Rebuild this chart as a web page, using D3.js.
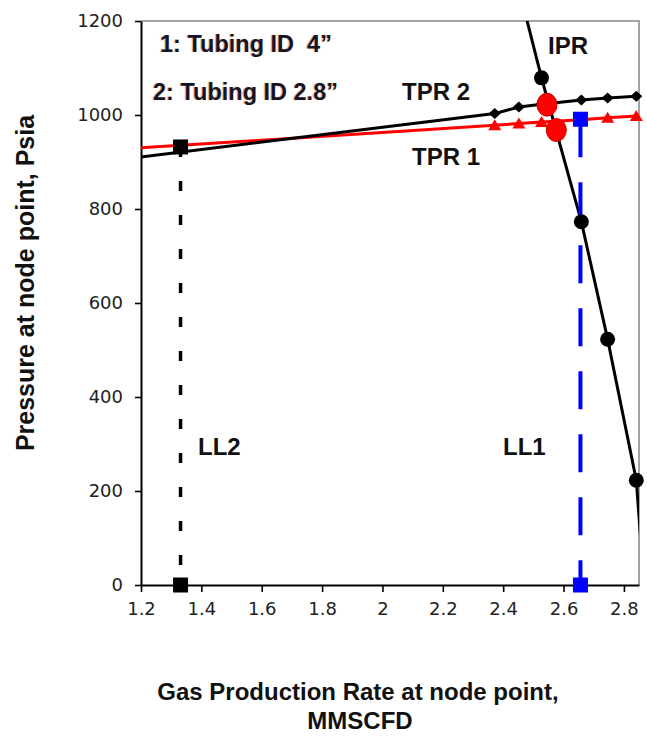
<!DOCTYPE html>
<html>
<head>
<meta charset="utf-8">
<script src="https://cdn.jsdelivr.net/npm/d3@7"></script>
<style>
  body { margin: 0; background: #fff; }
  svg { display: block; background: #fff; }
  .lbl { font-family: "Liberation Sans", Arial, sans-serif; font-weight: bold; fill: #111; }
  .note { font-family: "Liberation Sans", Arial, sans-serif; font-weight: bold; fill: #15152a;
          white-space: pre; text-shadow: -1px 0 1px rgba(225,140,45,0.75); }
  .axis .tick text { font-family: "DejaVu Sans", sans-serif; font-size: 18px; fill: #222; }
  .axis .tick line, .axis path.domain { stroke: #000; }
</style>
</head>
<body>
<svg id="chart" width="647" height="736"></svg>
<script>
// Axis ticks
const rateTicks = [1.2, 1.4, 1.6, 1.8, 2, 2.2, 2.4, 2.6, 2.8];
const pressureTicks = [0, 200, 400, 600, 800, 1000, 1200];

// Tubing performance (TPR) curves, node pressure vs gas rate
const tprRates     = [1.0, 2.372, 2.452, 2.527, 2.659, 2.746, 2.841];
const tpr1Pressure = [922, 978, 982, 985, 990, 994, 998];       // 1: tubing ID 4"
const tpr2Pressure = [895, 1003, 1017, 1023, 1032, 1036, 1040]; // 2: tubing ID 2.8"

// Inflow performance (IPR) curve
const iprRates    = [2.44, 2.527, 2.659, 2.746, 2.841, 2.86];
const iprPressure = [1300, 1079, 773, 523, 223, 60];

// Operating points (IPR / TPR intersections)
const opRates    = [2.545, 2.576];
const opPressure = [1022, 968];

// Liquid-loading limits
const ll1Rates    = [2.656, 2.656];
const ll1Pressure = [991, 0];
const ll2Rates    = [1.331, 1.331];
const ll2Pressure = [932, 0];

const svg = d3.select("#chart");
const plot = { left: 141, right: 639, top: 21, bottom: 585 };

const x = d3.scaleLinear().domain([1.2, 2.85]).range([plot.left, plot.right]);
const y = d3.scaleLinear().domain([0, 1200]).range([plot.bottom, plot.top]);

const inDomain = d => d[0] >= x.domain()[0] && d[0] <= x.domain()[1] &&
                      d[1] >= y.domain()[0] && d[1] <= y.domain()[1];
const zip = (a, b) => a.map((v, i) => [v, b[i]]);

svg.append("defs").append("clipPath").attr("id", "plotClip")
  .append("rect")
  .attr("x", plot.left).attr("y", plot.top)
  .attr("width", plot.right - plot.left).attr("height", plot.bottom - plot.top);

// Plot frame (top and right edges)
svg.append("path")
  .attr("d", `M${plot.left},${plot.top}H${plot.right}V${plot.bottom}`)
  .attr("fill", "none").attr("stroke", "#a3a3a3").attr("stroke-width", 2);

// Axes
const xAxis = svg.append("g").attr("class", "axis")
  .attr("transform", `translate(0,${plot.bottom})`)
  .call(d3.axisBottom(x).tickValues(rateTicks).tickSize(7).tickSizeOuter(0)
        .tickPadding(10).tickFormat(d => String(d)));
xAxis.select(".domain").attr("stroke-width", 2);
xAxis.selectAll(".tick line").attr("stroke-width", 1.6);

const yAxis = svg.append("g").attr("class", "axis")
  .attr("transform", `translate(${plot.left},0)`)
  .call(d3.axisLeft(y).tickValues(pressureTicks).tickSize(6).tickSizeOuter(0)
        .tickPadding(12).tickFormat(d => String(d)));
yAxis.select(".domain").attr("stroke-width", 2);
yAxis.selectAll(".tick line").attr("stroke-width", 1.6);

const line = d3.line().x(d => x(d[0])).y(d => y(d[1]));
const series = svg.append("g").attr("clip-path", "url(#plotClip)");

const tpr1 = zip(tprRates, tpr1Pressure);
const tpr2 = zip(tprRates, tpr2Pressure);
const ipr  = zip(iprRates, iprPressure);

series.append("path").datum(tpr1).attr("d", line)
  .attr("fill", "none").attr("stroke", "#ff0000").attr("stroke-width", 3);
series.append("path").datum(tpr2).attr("d", line)
  .attr("fill", "none").attr("stroke", "#000").attr("stroke-width", 3);
series.append("path").datum(ipr).attr("d", line)
  .attr("fill", "none").attr("stroke", "#000").attr("stroke-width", 3);

// Liquid-loading limit lines
series.append("path").datum(zip(ll2Rates, ll2Pressure)).attr("d", line)
  .attr("fill", "none").attr("stroke", "#000").attr("stroke-width", 3.5)
  .attr("stroke-dasharray", "10 24");
series.append("path").datum(zip(ll1Rates, ll1Pressure)).attr("d", line)
  .attr("fill", "none").attr("stroke", "#0000ff").attr("stroke-width", 4)
  .attr("stroke-dasharray", "38 25");

// Markers
const marks = svg.append("g");
marks.selectAll(".tri").data(tpr1.filter(inDomain)).join("path")
  .attr("transform", d => `translate(${x(d[0])},${y(d[1])})`)
  .attr("d", "M0,-6L6.5,5L-6.5,5Z").attr("fill", "#ff0000");
marks.selectAll(".dia").data(tpr2.filter(inDomain)).join("path")
  .attr("transform", d => `translate(${x(d[0])},${y(d[1])})`)
  .attr("d", "M0,-5.5L6,0L0,5.5L-6,0Z").attr("fill", "#000");
marks.selectAll(".ipr").data(ipr.filter(inDomain)).join("circle")
  .attr("cx", d => x(d[0])).attr("cy", d => y(d[1])).attr("r", 7.5).attr("fill", "#000");

const squares = zip(ll2Rates, ll2Pressure).map(d => [d, "#000"])
  .concat(zip(ll1Rates, ll1Pressure).map(d => [d, "#0000ff"]));
marks.selectAll(".sq").data(squares).join("rect")
  .attr("x", d => x(d[0][0]) - 7.5).attr("y", d => y(d[0][1]) - 7.5)
  .attr("width", 15).attr("height", 15).attr("fill", d => d[1]);

marks.selectAll(".op").data(zip(opRates, opPressure)).join("ellipse")
  .attr("cx", d => x(d[0])).attr("cy", d => y(d[1]))
  .attr("rx", 10).attr("ry", 11.5)
  .attr("fill", "#ff0000").attr("stroke", "#c80000").attr("stroke-width", 1);

// Curve labels
const labels = [
  ["IPR", 548, 54], ["TPR 2", 402, 100], ["TPR 1", 412, 165],
  ["LL2", 198, 455], ["LL1", 503, 455]
];
svg.selectAll(".curveLbl").data(labels).join("text")
  .attr("class", "lbl").attr("x", d => d[1]).attr("y", d => d[2])
  .attr("font-size", 24).text(d => d[0]);

// Tubing notes
svg.append("text").attr("class", "note").attr("x", 160).attr("y", 52)
  .attr("font-size", 23.5).text("1: Tubing ID  4\u201D");
svg.append("text").attr("class", "note").attr("x", 153).attr("y", 100)
  .attr("font-size", 23.5).text("2: Tubing ID 2.8\u201D");

// Axis titles
svg.append("text").attr("class", "lbl").attr("text-anchor", "middle")
  .attr("x", 358).attr("y", 700).attr("font-size", 24)
  .text("Gas Production Rate at node point,");
svg.append("text").attr("class", "lbl").attr("text-anchor", "middle")
  .attr("x", 360).attr("y", 729).attr("font-size", 24)
  .text("MMSCFD");
svg.append("text").attr("class", "lbl").attr("text-anchor", "middle")
  .attr("transform", "translate(34,283) rotate(-90)").attr("font-size", 25)
  .text("Pressure at node point, Psia");
</script>
</body>
</html>
